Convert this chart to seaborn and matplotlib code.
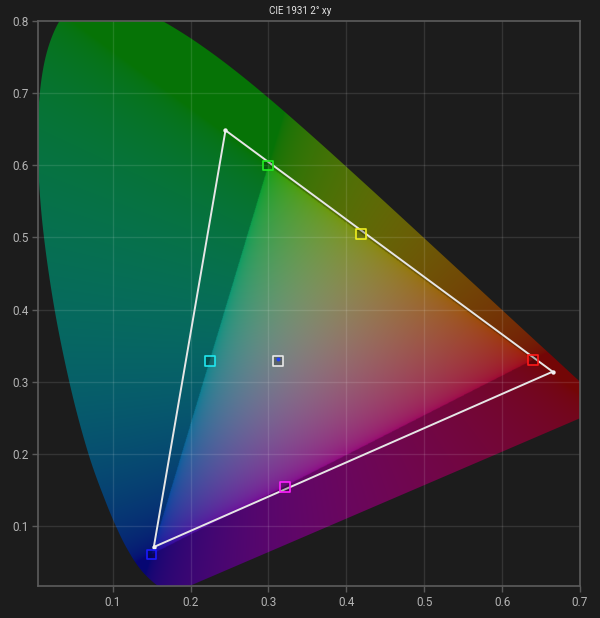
import numpy as np
import pandas as pd
import matplotlib
matplotlib.use("Agg")
import matplotlib.pyplot as plt
from matplotlib.path import Path
from matplotlib.patches import Polygon
import seaborn as sns

# ---------------- data ----------------
# CIE 1931 2deg spectral locus (380..700 nm, 5 nm steps)
locus_x = [0.1741, 0.1740, 0.1738, 0.1736, 0.1733, 0.1730, 0.1726, 0.1721, 0.1714, 0.1703,
           0.1689, 0.1669, 0.1644, 0.1611, 0.1566, 0.1510, 0.1440, 0.1355, 0.1241, 0.1096,
           0.0913, 0.0687, 0.0454, 0.0235, 0.0082, 0.0039, 0.0139, 0.0389, 0.0743, 0.1142,
           0.1547, 0.1929, 0.2296, 0.2658, 0.3016, 0.3373, 0.3731, 0.4087, 0.4441, 0.4788,
           0.5125, 0.5448, 0.5752, 0.6029, 0.6270, 0.6482, 0.6658, 0.6801, 0.6915, 0.7006,
           0.7079, 0.7140, 0.7190, 0.7230, 0.7260, 0.7283, 0.7300, 0.7311, 0.7320, 0.7327,
           0.7334, 0.7340, 0.7344, 0.7346, 0.7347]
locus_y = [0.0050, 0.0050, 0.0049, 0.0049, 0.0048, 0.0048, 0.0048, 0.0048, 0.0051, 0.0058,
           0.0069, 0.0086, 0.0109, 0.0138, 0.0177, 0.0227, 0.0297, 0.0399, 0.0578, 0.0868,
           0.1327, 0.2007, 0.2950, 0.4127, 0.5384, 0.6548, 0.7502, 0.8120, 0.8338, 0.8262,
           0.8059, 0.7816, 0.7543, 0.7243, 0.6923, 0.6589, 0.6245, 0.5896, 0.5547, 0.5202,
           0.4866, 0.4544, 0.4242, 0.3965, 0.3725, 0.3514, 0.3340, 0.3197, 0.3083, 0.2993,
           0.2920, 0.2859, 0.2809, 0.2770, 0.2740, 0.2717, 0.2700, 0.2689, 0.2680, 0.2673,
           0.2666, 0.2660, 0.2656, 0.2654, 0.2653]

# reference gamut (sRGB / Rec.709 primaries)
ref_x = [0.64, 0.30, 0.15]
ref_y = [0.33, 0.60, 0.06]

# measured gamut triangle
meas_x = [0.2449, 0.6649, 0.1529, 0.2449]
meas_y = [0.6487, 0.3138, 0.0705, 0.6487]

# target points
target_names = ["Red", "Green", "Blue", "Cyan", "Magenta", "Yellow", "White"]
target_x = [0.6400, 0.3000, 0.1500, 0.2247, 0.3209, 0.4193, 0.3127]
target_y = [0.3300, 0.6000, 0.0600, 0.3287, 0.1542, 0.5053, 0.3290]
target_colors = ["#ff1a1a", "#22ee22", "#1a1aff", "#20e8f0", "#ff20ff", "#f0f020", "#e8e8e8"]

measured_white_x = [0.3123]
measured_white_y = [0.3310]

x_ticks = [0.1, 0.2, 0.3, 0.4, 0.5, 0.6, 0.7]
y_ticks = [0.1, 0.2, 0.3, 0.4, 0.5, 0.6, 0.7, 0.8]

# ---------------- style ----------------
BG = "#1c1c1c"
sns.set_theme(style="dark")
plt.rcParams["font.family"] = ["Roboto", "DejaVu Sans"]

fig = plt.figure(figsize=(6.0, 6.18), dpi=100, facecolor=BG)
ax = fig.add_axes([38.3 / 600, 1 - 586 / 618, (580 - 38.3) / 600, (586 - 21.3) / 618])
ax.set_facecolor(BG)

# ---------------- chromaticity fill ----------------
nx, ny = 900, 1000
gx = np.linspace(0.0, 0.75, nx)
gy = np.linspace(0.0, 0.85, ny)
GX, GY = np.meshgrid(gx, gy)
Yc = np.maximum(GY, 1e-4)
XYZ = np.stack([GX / Yc, np.ones_like(GX), (1 - GX - GY) / Yc], axis=-1)
M = np.array([[3.2406, -1.5372, -0.4986],
              [-0.9689, 1.8758, 0.0415],
              [0.0557, -0.2040, 1.0570]])
M = M / (M @ np.ones(3))[:, None]      # equal-energy white renders neutral
rgb = XYZ @ M.T
rgb = np.clip(rgb, 0, None)
rgb = rgb / np.maximum(np.sqrt((rgb ** 2).sum(axis=-1, keepdims=True)), 1e-9)
rgb = np.where(rgb <= 0.0031308, 12.92 * rgb, 1.055 * np.power(rgb, 1 / 2.4) - 0.055)

tri = Path(np.column_stack([ref_x, ref_y]))
inside = tri.contains_points(np.column_stack([GX.ravel(), GY.ravel()])).reshape(GX.shape)
rgb_in = 0.66 * (rgb * 0.90 + 0.45 * 0.10)
rgb_out = 0.50 * (rgb * 0.86 + 0.35 * 0.14)
img = np.where(inside[..., None], rgb_in, rgb_out)
img = np.clip(img, 0, 1)

im = ax.imshow(img, extent=(0, 0.75, 0, 0.85), origin="lower", aspect="auto",
               interpolation="bilinear", zorder=1)


def smooth_outline(px, py, per_seg=12):
    """Catmull-Rom rendering of the locus outline through the given points."""
    P = np.column_stack([px, py])
    P = np.vstack([P[0], P, P[-1]])
    out = []
    t = np.linspace(0, 1, per_seg, endpoint=False)[:, None]
    for i in range(1, len(P) - 2):
        p0, p1, p2, p3 = P[i - 1], P[i], P[i + 1], P[i + 2]
        seg = 0.5 * ((2 * p1) + (-p0 + p2) * t + (2 * p0 - 5 * p1 + 4 * p2 - p3) * t ** 2
                     + (-p0 + 3 * p1 - 3 * p2 + p3) * t ** 3)
        out.append(seg)
    out.append(P[-2][None, :])
    return np.vstack(out)


outline = smooth_outline(locus_x, locus_y)
clip = Polygon(outline, closed=True, transform=ax.transData,
               facecolor="none", edgecolor="none")
ax.add_patch(clip)
im.set_clip_path(clip)

# ---------------- grid ----------------
for xv in x_ticks[:-1]:
    ax.axvline(xv, color=(1, 1, 1, 0.11), lw=1.0, zorder=2)
for yv in y_ticks[:-1]:
    ax.axhline(yv, color=(1, 1, 1, 0.11), lw=1.0, zorder=2)

# ---------------- measured triangle ----------------
tri_df = pd.DataFrame({"x": meas_x, "y": meas_y})
sns.lineplot(data=tri_df, x="x", y="y", sort=False, estimator=None, color="#e6e6e6",
             lw=1.4, ax=ax, zorder=4)
sns.scatterplot(x=meas_x[:3], y=meas_y[:3], color="#f0f0f0", s=10, linewidth=0, ax=ax, zorder=5)

# ---------------- target squares ----------------
tdf = pd.DataFrame({"x": target_x, "y": target_y, "name": target_names})
sns.scatterplot(data=tdf, x="x", y="y", hue="name",
                palette=dict(zip(target_names, target_colors)),
                marker="s", s=50, legend=False, ax=ax, zorder=6)
coll = ax.collections[-1]
coll.set_facecolors((0, 0, 0, 0.22))
coll.set_edgecolors([target_colors[target_names.index(n)] for n in tdf["name"]])
coll.set_linewidths(1.2)

sns.scatterplot(x=measured_white_x, y=measured_white_y, color="#2040ff", s=8, linewidth=0,
                ax=ax, zorder=7)

# ---------------- axes ----------------
ax.set_xlim(0.0046, 0.7)
ax.set_ylim(0.0164, 0.8)
ax.set_xticks(x_ticks)
ax.set_yticks(y_ticks)
ax.set_xticklabels([f"{v:.1f}" for v in x_ticks])
ax.set_yticklabels([f"{v:.1f}" for v in y_ticks])
ax.set_xlabel("")
ax.set_ylabel("")
ax.grid(False)
ax.tick_params(axis="both", which="both", direction="out", length=4, width=1,
               color="#5a5a5a", labelcolor="#b4b4b4", labelsize=8.5, pad=3,
               bottom=True, left=True)
for sp in ax.spines.values():
    sp.set_visible(True)
    sp.set_color("#5c5c5c")
    sp.set_linewidth(1.2)
    sp.set_zorder(8)

fig.text(0.5, 1 - 11 / 618, "CIE 1931 2° xy", ha="center", va="center",
         color="#e4e4e4", fontsize=7)

fig.savefig("out.png", dpi=100, facecolor=BG)
